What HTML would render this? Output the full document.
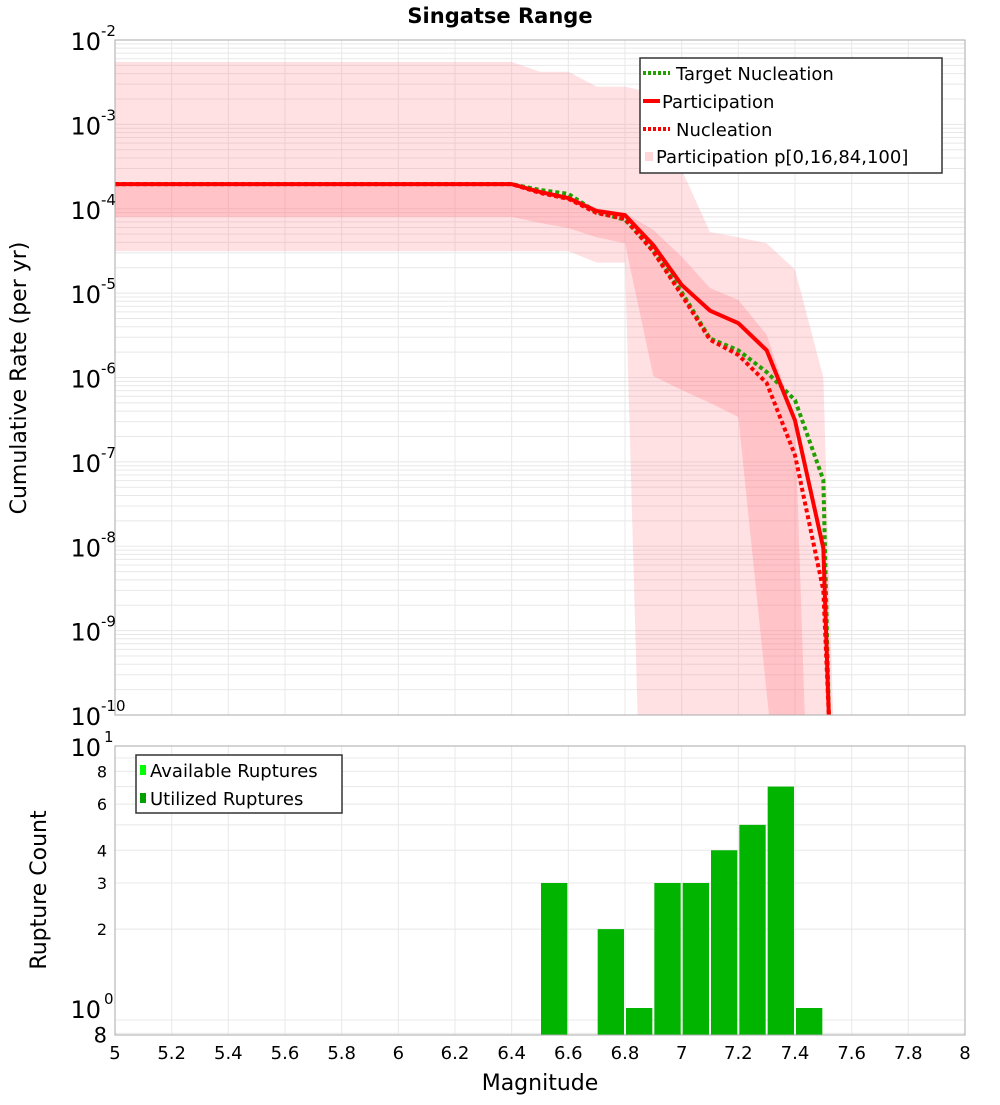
<!DOCTYPE html>
<html><head><meta charset="utf-8"><style>
body{margin:0;background:#fff;}
svg text{font-family:"DejaVu Sans","Liberation Sans",sans-serif;}
</style></head><body>
<svg id="c" width="1000" height="1100" xmlns="http://www.w3.org/2000/svg"></svg>
<script>
// ---- data ----
const mags = [5.0,6.4,6.5,6.6,6.7,6.8,6.9,7.0,7.1,7.2,7.3,7.4,7.5,7.52];
const participation = [1.96e-4,1.96e-4,1.58e-4,1.34e-4,9.4e-5,8.4e-5,3.7e-5,1.25e-5,6.2e-6,4.4e-6,2.1e-6,3.1e-7,9.5e-9,1e-12];
const nucleation = [1.96e-4,1.96e-4,1.54e-4,1.31e-4,8.9e-5,7.6e-5,3.1e-5,9.5e-6,2.8e-6,1.85e-6,8.6e-7,1.2e-7,3.0e-9,1e-12];
const targetNucleation = [1.96e-4,1.96e-4,1.67e-4,1.5e-4,9.1e-5,7.4e-5,3.2e-5,1.03e-5,2.9e-6,2.1e-6,1.16e-6,5.4e-7,6.1e-8,1e-12];
const outerUpperX = [5.0,6.4,6.5,6.6,6.7,6.8,6.9,7.0,7.1,7.2,7.3,7.4,7.5,7.535];
const outerUpper = [5.5e-3,5.5e-3,4.2e-3,4.2e-3,2.8e-3,2.8e-3,2.35e-3,2.9e-4,5.3e-5,4.6e-5,3.9e-5,1.9e-5,1.0e-6,1e-12];
const outerLowerX = [5.0,6.4,6.5,6.6,6.7,6.8,6.845];
const outerLower = [3.15e-5,3.15e-5,3.15e-5,3.15e-5,2.3e-5,2.3e-5,1e-12];
const innerUpperX = [5.0,6.4,6.5,6.6,6.7,6.8,6.9,7.0,7.1,7.2,7.3,7.4,7.435];
const innerUpper = [1.86e-4,1.86e-4,1.67e-4,1.42e-4,1.02e-4,8.9e-5,5.6e-5,2.7e-5,1.15e-5,8.3e-6,3.2e-6,3.3e-7,1e-12];
const innerLowerX = [5.0,6.4,6.5,6.6,6.7,6.8,6.9,7.0,7.1,7.2,7.31];
const innerLower = [8.0e-5,8.0e-5,6.8e-5,5.9e-5,4.6e-5,3.9e-5,1.04e-6,7.1e-7,5.0e-7,3.4e-7,1e-12];
const binStarts = [6.5,6.7,6.8,6.9,7.0,7.1,7.2,7.3,7.4];
const ruptureCounts = [3,2,1,3,3,4,5,7,1];
const xTicks = ["5","5.2","5.4","5.6","5.8","6","6.2","6.4","6.6","6.8","7","7.2","7.4","7.6","7.8","8"];
const topExps = [-2,-3,-4,-5,-6,-7,-8,-9,-10];
const bottomTickLabels = ["8","6","4","3","2","8"];
const bottomTickVals = [8,6,4,3,2,0.8];

// ---- layout ----
const NS="http://www.w3.org/2000/svg", svg=document.getElementById('c');
const L=115,R=965,T1=40,B1=715,T2=746,B2=1035;
const xs=m=>L+(m-5)/3*(R-L);
const y1=v=>{const lg=Math.log10(Math.max(v,1e-12));return T1+(-2-lg)*(B1-T1)/8;};
const DEC2=262;
const y2=v=>(T2+DEC2)-Math.log10(v)*DEC2;
function el(tag,attrs,parent){const e=document.createElementNS(NS,tag);for(const k in attrs)e.setAttribute(k,attrs[k]);(parent||svg).appendChild(e);return e;}
function txt(s,attrs,parent){const e=el('text',attrs,parent);e.textContent=s;return e;}

const defs=el('defs',{});
const cp1=el('clipPath',{id:'clip1'},defs);el('rect',{x:L,y:T1,width:R-L,height:B1-T1},cp1);

// top plot grid
const g1=el('g',{});


for(let d=-10;d<-2;d++)for(let k=1;k<10;k++){const y=y1(k*Math.pow(10,d));el('line',{x1:L,x2:R,y1:y,y2:y,stroke:'#e8e8e8','stroke-width':1},g1);}
for(let i=0;i<xTicks.length;i++){const x=xs(+xTicks[i]);el('line',{x1:x,x2:x,y1:T1,y2:B1,stroke:'#e8e8e8'},g1);el('line',{x1:x,x2:x,y1:T2,y2:B2,stroke:'#e8e8e8'},g1);}

// bands
function band(ux,uy,lx,ly,fill,name){
  let pts=ux.map((m,i)=>xs(m)+','+Math.min(y1(uy[i]),B1+5));
  for(let i=lx.length-1;i>=0;i--)pts.push(xs(lx[i])+','+Math.min(y1(ly[i]),B1+5));
  const p=el('polygon',{points:pts.join(' '),fill:fill,'clip-path':'url(#clip1)'});
  
  
}
band(outerUpperX,outerUpper,outerLowerX,outerLower,'rgba(255,120,130,0.22)','band-p0-p100');
band(innerUpperX,innerUpper,innerLowerX,innerLower,'rgba(255,120,130,0.28)','band-p16-p84');

function line(vals,color,dash,name){
  const pts=mags.map((m,i)=>xs(m)+','+Math.min(y1(vals[i]),B1+5)).join(' ');
  const p=el('polyline',{points:pts,fill:'none',stroke:color,'stroke-width':4,'stroke-dasharray':dash||'none','clip-path':'url(#clip1)'});
  
  
}
line(targetNucleation,'#22a000','4,3','target-nucleation-line');
line(nucleation,'#ff0000','4,3','nucleation-line');
line(participation,'#ff0000',null,'participation-line');

el('rect',{x:L,y:T1,width:R-L,height:B1-T1,fill:'none',stroke:'#aaa'});

// top y ticks
topExps.forEach(e=>{const y=y1(Math.pow(10,e));
  const t=txt('10',{x:101,y:y+10,'font-size':24,'text-anchor':'end',fill:'#000'});
  
  
  txt(String(e),{x:101,y:y-4,'font-size':15,fill:'#000'});
});

// bottom plot
const g2=el('g',{});


[0.8,0.9,2,3,4,5,6,7,8,9].forEach(v=>{const y=y2(v);el('line',{x1:L,x2:R,y1:y,y2:y,stroke:'#e8e8e8'},g2);});
binStarts.forEach((b,i)=>{
  const x0=xs(b)+1,x1=xs(b+0.1)-1,y=y2(ruptureCounts[i]);
  const r=el('rect',{x:x0,y:y,width:x1-x0,height:B2-y,fill:'#00b400'});
  
  
});
el('rect',{x:L,y:T2,width:R-L,height:B2-T2,fill:'none',stroke:'#aaa'});
bottomTickVals.forEach((v,i)=>{const t=txt(bottomTickLabels[i],{x:i==5?107:107,y:y2(v)+(i==5?9:6),'font-size':i==5?21:16,'text-anchor':'end',fill:'#000'});
  
  });
txt('10',{x:101,y:T2+10,'font-size':24,'text-anchor':'end'});txt('1',{x:104,y:T2-4,'font-size':15});
txt('10',{x:101,y:y2(1)+10,'font-size':24,'text-anchor':'end'});txt('0',{x:104,y:y2(1)-4,'font-size':15});

// x ticks
xTicks.forEach(s=>{const t=txt(s,{x:xs(+s),y:1059,'font-size':18,'text-anchor':'middle'});
  
  });

// titles
let t=txt('Singatse Range',{x:500,y:23,'font-size':21,'font-weight':'bold','text-anchor':'middle'});

t=txt('Magnitude',{x:540,y:1090,'font-size':22,'text-anchor':'middle'});

t=txt('Cumulative Rate (per yr)',{x:0,y:0,'font-size':22,'text-anchor':'middle',transform:'translate(26,378) rotate(-90)'});

t=txt('Rupture Count',{x:0,y:0,'font-size':22,'text-anchor':'middle',transform:'translate(46,890) rotate(-90)'});


// top legend
const lg=el('g',{});


el('rect',{x:640,y:58,width:302,height:115,fill:'#fff',stroke:'#333','stroke-width':1.5},lg);
el('line',{x1:643,x2:670,y1:73,y2:73,stroke:'#22a000','stroke-width':4,'stroke-dasharray':'3,2'},lg);
txt('Target Nucleation',{x:676,y:80,'font-size':18},lg);
el('line',{x1:643,x2:660,y1:101,y2:101,stroke:'#f00','stroke-width':4},lg);
txt('Participation',{x:662,y:108,'font-size':18},lg);
el('line',{x1:643,x2:670,y1:129,y2:129,stroke:'#f00','stroke-width':4,'stroke-dasharray':'3,2'},lg);
txt('Nucleation',{x:676,y:136,'font-size':18},lg);
el('rect',{x:645,y:152,width:8,height:9,fill:'rgba(255,120,130,0.3)'},lg);
txt('Participation p[0,16,84,100]',{x:656,y:163,'font-size':18},lg);

// bottom legend
const lg2=el('g',{});


el('rect',{x:136,y:755,width:206,height:58,fill:'#fff',stroke:'#333','stroke-width':1.5},lg2);
el('rect',{x:140,y:765,width:6,height:10,fill:'#00ff00'},lg2);
txt('Available Ruptures',{x:150,y:777,'font-size':18},lg2);
el('rect',{x:140,y:793,width:6,height:10,fill:'#00a000'},lg2);
txt('Utilized Ruptures',{x:150,y:805,'font-size':18},lg2);
</script>
</body></html>
